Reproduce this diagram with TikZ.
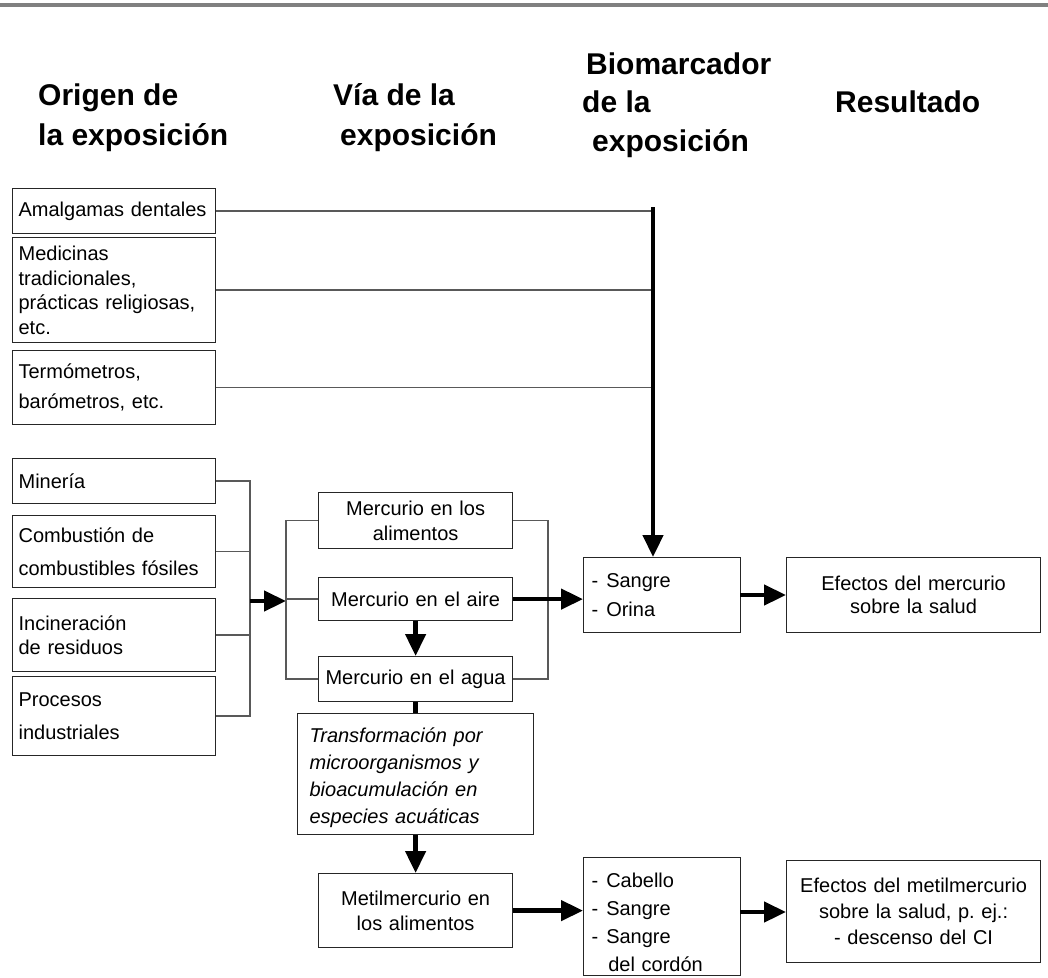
\documentclass[tikz,border=0pt]{standalone}
\usepackage{fontspec}
\setmainfont{Liberation Sans}
\usetikzlibrary{arrows.meta}
\frenchspacing
\begin{document}
\begin{tikzpicture}[x=1pt,y=-1pt,
  box/.style={draw=black!85, line width=1.2pt, anchor=north west, inner xsep=6pt, inner ysep=0pt, font=\fontsize{20}{24.5}\selectfont},
  hdr/.style={anchor=base west, inner sep=0pt, font=\fontsize{30}{36}\selectfont\bfseries},
  conn/.style={draw=black!65, line width=1.3pt},
  fat/.style={line width=4.5pt, -{Triangle[length=22pt,width=20pt]}},
  fatline/.style={line width=4.5pt},
]
\fill[white] (0,0) rectangle (1048,977);
\useasboundingbox (0,0) rectangle (1048,977);
\fill[black!50] (0,3) rectangle (1048,7);

% headers
\node[hdr] (h1a) at (38,105) {Origen de};
\node[hdr] (h1b) at (38,145) {la exposición};
\node[hdr] (h2a) at (333,105) {Vía de la};
\node[hdr] (h2b) at (340,145) {exposición};
\node[hdr] (h3a) at (586,74) {Biomarcador};
\node[hdr] (h3b) at (582,112) {de la};
\node[hdr] (h3c) at (592,151) {exposición};
\node[hdr] (h4) at (835,112) {Resultado};

% left boxes
\node[box, minimum width=203pt, minimum height=45pt, text width=191pt, align=left] (amal) at (12,188) {Amalgamas dentales};
\node[box, minimum width=203pt, minimum height=105pt, text width=191pt, align=left] (medi) at (12,237) {Medicinas\\tradicionales,\\prácticas religiosas,\\etc.};
\node[box, minimum width=203pt, minimum height=74pt, text width=191pt, align=left] (term) at (12,350) {Termómetros,\\[5pt]barómetros, etc.};
\node[box, minimum width=203pt, minimum height=45pt, text width=191pt, align=left] (mine) at (12,458) {Minería};
\node[box, minimum width=203pt, minimum height=72pt, text width=191pt, align=left] (comb) at (12,515) {Combustión de\\[9pt]combustibles fósiles};
\node[box, minimum width=203pt, minimum height=73pt, text width=191pt, align=left] (inci) at (12,598) {Incineración\\de residuos};
\node[box, minimum width=203pt, minimum height=79pt, text width=191pt, align=left] (proc) at (12,676) {Procesos\\[8pt]industriales};

% middle boxes
\node[box, minimum width=194pt, minimum height=56pt, text width=182pt, align=center] (alim) at (318,492) {Mercurio en los\\alimentos};
\node[box, minimum width=194pt, minimum height=43pt, text width=184pt, inner xsep=5pt, align=center] (aire) at (318,577) {Mercurio en el aire};
\node[box, minimum width=194pt, minimum height=45pt, text width=184pt, inner xsep=5pt, align=center] (agua) at (318,656) {Mercurio en el agua};
\node[box, minimum width=236pt, minimum height=121pt, text width=212pt, inner xsep=12pt, align=left, font=\fontsize{20}{27}\selectfont\itshape] (trans) at (297,713) {\rule{0pt}{22pt}Transformación por\\microorganismos y\\bioacumulación en\\especies acuáticas};
\node[box, minimum width=194pt, minimum height=74pt, text width=182pt, align=center] (metil) at (318,873) {Metilmercurio en\\los alimentos};

% biomarker boxes
\node[box, minimum width=157pt, minimum height=75pt, text width=145pt, align=left, font=\fontsize{20}{29}\selectfont] (sang) at (583,557) {\hspace*{2pt}-\hspace{8pt}Sangre\\\hspace*{2pt}-\hspace{8pt}Orina};
\node[box, minimum width=157pt, minimum height=118pt, text width=145pt, align=left, font=\fontsize{20}{28}\selectfont] (cab) at (583,857) {\rule{0pt}{25pt}\hspace*{2pt}-\hspace{8pt}Cabello\\\hspace*{2pt}-\hspace{8pt}Sangre\\\hspace*{2pt}-\hspace{8pt}Sangre\\\hspace*{18.7pt}del cordón};

% result boxes
\node[box, minimum width=254pt, minimum height=75pt, text width=242pt, align=center, font=\fontsize{20}{23}\selectfont] (efm) at (786,557) {Efectos del mercurio\hspace*{12pt}\\sobre la salud\hspace*{12pt}};
\node[box, minimum width=254pt, minimum height=102pt, text width=242pt, align=center, font=\fontsize{20}{26}\selectfont] (efmm) at (786,860) {Efectos del metilmercurio\\sobre la salud, p. ej.:\\- descenso del CI};

% upper connectors
\coordinate (tl) at (653,207);
\draw[conn] (amal.east) -- (amal.east -| tl);
\draw[conn] (medi.east) -- (medi.east -| tl);
\draw[conn] (term.east) -- (term.east -| tl);
\draw[fat] (tl) -- (sang.north -| tl);

% left bracket
\coordinate (lb) at (250,0);
\draw[conn] (mine.east) -- (mine.east -| lb) -- (proc.east -| lb) -- (proc.east);
\draw[conn] (comb.east) -- (comb.east -| lb);
\draw[conn] (inci.east) -- (inci.east -| lb);
\coordinate (mb) at (286,601);
\draw[fat] (mb -| lb) -- (mb);

% middle bracket
\draw[conn] (alim.west) -- (alim.west -| mb) -- (agua.west -| mb) -- (agua.west);
\draw[conn] (aire.west) -- (aire.west -| mb);
\coordinate (rb) at (548,0);
\draw[conn] (alim.east) -- (alim.east -| rb) -- (agua.east -| rb) -- (agua.east);

% thick arrows
\draw[fat] (aire.east) -- (aire.east -| sang.west);
\draw[fat] (aire.south) -- (agua.north);
\draw[fatline] (agua.south) -- (trans.north -| agua.south);
\draw[fat] (trans.south -| metil.north) -- (metil.north);
\draw[fat] (metil.east) -- (metil.east -| cab.west);
\coordinate (c2) at (740,912);
\draw[fat] (c2) -- (c2 -| efmm.west);
\coordinate (c1) at (740,595);
\draw[fat] (c1) -- (c1 -| efm.west);
\end{tikzpicture}
\end{document}
